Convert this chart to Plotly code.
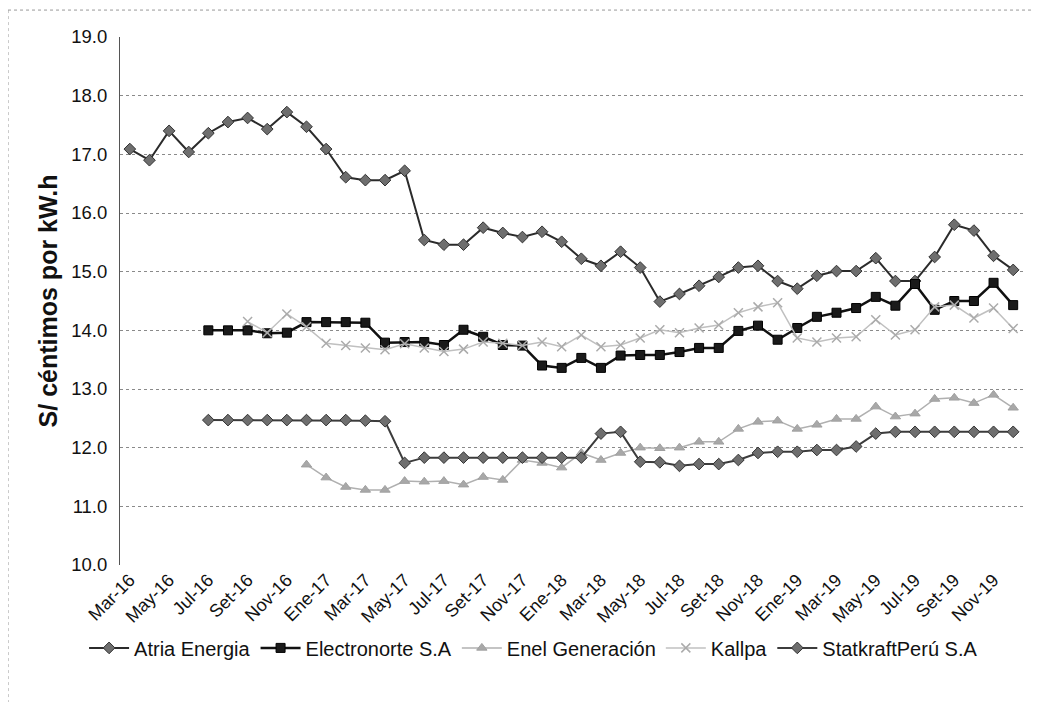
import plotly.graph_objects as go

months = ["Ene", "Feb", "Mar", "Abr", "May", "Jun", "Jul", "Ago", "Set", "Oct", "Nov", "Dic"]
# Mar-16 .. Dic-19
categories = []
for yr in range(16, 20):
    for m in months:
        categories.append(f"{m}-{yr}")
categories = categories[2:]  # start at Mar-16 -> 46 months

tick_labels = categories[::2]

atria = [17.09, 16.90, 17.40, 17.04, 17.36, 17.55, 17.62, 17.43, 17.72, 17.47,
         17.09, 16.61, 16.56, 16.56, 16.72, 15.54, 15.46, 15.46, 15.75, 15.66,
         15.59, 15.68, 15.51, 15.22, 15.10, 15.34, 15.07, 14.49, 14.62, 14.76,
         14.91, 15.07, 15.10, 14.84, 14.71, 14.93, 15.01, 15.01, 15.23, 14.84,
         14.84, 15.25, 15.80, 15.70, 15.27, 15.03]

electronorte = [None, None, None, None, 14.00, 14.00, 14.00, 13.95, 13.96, 14.14,
                14.14, 14.14, 14.13, 13.79, 13.80, 13.80, 13.75, 14.01, 13.89, 13.75,
                13.74, 13.40, 13.36, 13.53, 13.36, 13.57, 13.58, 13.58, 13.63, 13.70,
                13.70, 13.99, 14.08, 13.84, 14.04, 14.23, 14.30, 14.38, 14.57, 14.42,
                14.79, 14.35, 14.50, 14.50, 14.81, 14.43]

enel = [None, None, None, None, None, None, None, None, None, 11.71,
        11.49, 11.33, 11.28, 11.28, 11.43, 11.42, 11.43, 11.37, 11.50, 11.45,
        11.79, 11.74, 11.66, 11.91, 11.79, 11.91, 12.00, 11.99, 12.00, 12.10,
        12.10, 12.32, 12.44, 12.46, 12.32, 12.39, 12.49, 12.49, 12.70, 12.53,
        12.58, 12.83, 12.85, 12.76, 12.90, 12.68]

kallpa = [None, None, None, None, None, None, 14.15, 13.96, 14.28, 14.06,
          13.78, 13.74, 13.70, 13.67, 13.77, 13.70, 13.64, 13.68, 13.80, 13.78,
          13.74, 13.80, 13.72, 13.92, 13.72, 13.75, 13.87, 14.01, 13.96, 14.04,
          14.09, 14.30, 14.40, 14.47, 13.87, 13.80, 13.87, 13.89, 14.18, 13.92,
          14.01, 14.40, 14.43, 14.21, 14.38, 14.03]

statkraft = [None, None, None, None, 12.47, 12.47, 12.47, 12.47, 12.47, 12.47,
             12.47, 12.47, 12.46, 12.45, 11.74, 11.83, 11.83, 11.83, 11.83, 11.83,
             11.83, 11.83, 11.83, 11.83, 12.24, 12.27, 11.76, 11.75, 11.69, 11.72,
             11.72, 11.79, 11.91, 11.93, 11.93, 11.96, 11.96, 12.02, 12.24, 12.27,
             12.27, 12.27, 12.27, 12.27, 12.27, 12.27]

series = [
    ("Atria Energia", atria, dict(color="#2b2b2b", width=2),
     dict(symbol="diamond", size=9, color="#6e6e6e", line=dict(color="#333", width=1))),
    ("Electronorte S.A", electronorte, dict(color="#111111", width=2.5),
     dict(symbol="square", size=9, color="#1a1a1a", line=dict(color="#000", width=1))),
    ("Enel Generación", enel, dict(color="#b0b0b0", width=1.5),
     dict(symbol="triangle-up", size=9, color="#a8a8a8", line=dict(color="#a0a0a0", width=1))),
    ("Kallpa", kallpa, dict(color="#c0c0c0", width=1.5),
     dict(symbol="x-thin", size=9, color="#b0b0b0", line=dict(color="#ababab", width=1.5))),
    ("StatkraftPerú S.A", statkraft, dict(color="#3c3c3c", width=2),
     dict(symbol="diamond", size=9, color="#6e6e6e", line=dict(color="#333", width=1))),
]

fig = go.Figure()
for name, vals, line, marker in series:
    fig.add_trace(go.Scatter(x=categories, y=vals, name=name, mode="lines+markers",
                             line=line, marker=marker, connectgaps=False))

font = "Liberation Sans, Arial, sans-serif"
# the page body adds an 8px offset; margins compensate for it
fig.update_layout(
    width=1041, height=702,
    margin=dict(l=112, r=26, t=29, b=145, autoexpand=False),
    paper_bgcolor="white", plot_bgcolor="white",
    font=dict(family=font, color="#111", size=16),
    showlegend=True,
    legend=dict(orientation="h", x=0.458, xanchor="center", y=-0.157, yanchor="middle",
                font=dict(size=20, family=font, color="#111"), itemwidth=40,
                tracegroupgap=0),
    xaxis=dict(type="category", categoryorder="array", categoryarray=categories,
               tickmode="array", tickvals=tick_labels, ticktext=tick_labels,
               tickangle=-45, tickfont=dict(size=18), showgrid=False,
               showline=False, ticks="", range=[-0.5, len(categories) - 0.5]),
    yaxis=dict(range=[10, 19], dtick=1, tickformat=".1f", tickfont=dict(size=18.5),
               showgrid=True, gridcolor="#8a8a8a", griddash="dot", gridwidth=1,
               showline=True, linecolor="#555", linewidth=1, zeroline=False,
               ticks="", ticklen=0, ticklabelstandoff=8,
               title=dict(text="<b>S/ céntimos por kW.h</b>", font=dict(size=25), standoff=6)),
)

# outer dotted frame (top & left)
fig.add_shape(type="line", xref="paper", yref="paper", x0=-0.124, x1=1.03, y0=1.051, y1=1.051,
              line=dict(color="#999", width=1, dash="dot"))
fig.add_shape(type="line", xref="paper", yref="paper", x0=-0.124, x1=-0.124, y0=1.051, y1=-0.27,
              line=dict(color="#999", width=1, dash="dot"))

fig.write_html("out.html")
